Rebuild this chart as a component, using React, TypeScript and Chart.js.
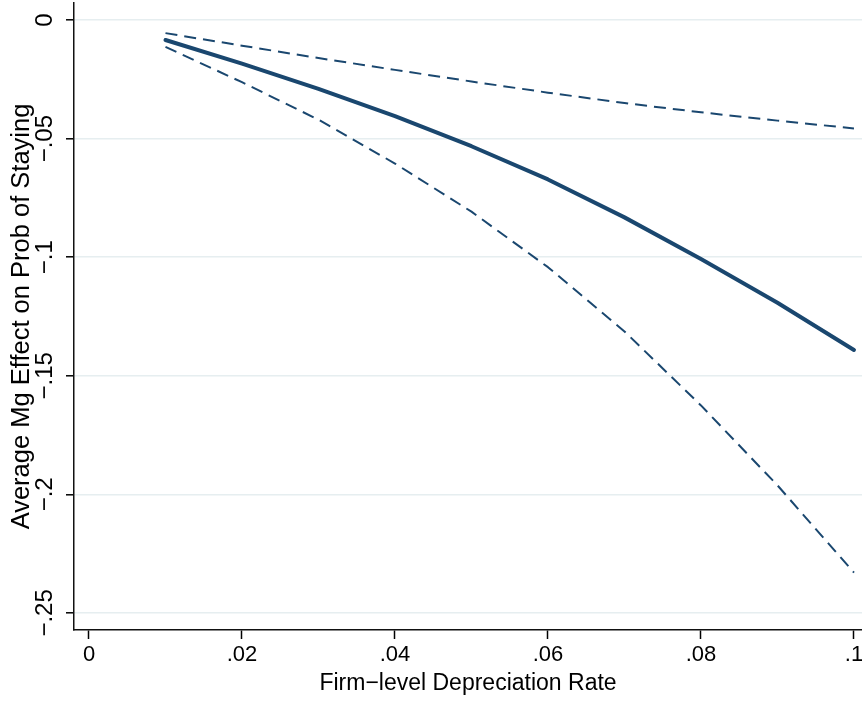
import React, { useEffect, useRef } from "react";
import { Chart, registerables } from "chart.js";

Chart.register(...registerables);

const DEP_RATE = [0.01, 0.02, 0.03, 0.04, 0.05, 0.06, 0.07, 0.08, 0.09, 0.1];
const MARGINAL_EFFECT = [-0.0084, -0.0184, -0.029, -0.0405, -0.0532, -0.0672, -0.0832, -0.1008, -0.1192, -0.1391];
const CI_UPPER = [-0.0055, -0.0108, -0.016, -0.021, -0.0259, -0.0306, -0.035, -0.0389, -0.0424, -0.0457];
const CI_LOWER = [-0.0113, -0.0262, -0.042, -0.0605, -0.0808, -0.1042, -0.1313, -0.1625, -0.1962, -0.233];

const X_TICKS = [0, 0.02, 0.04, 0.06, 0.08, 0.1];
const X_TICK_LABELS = ["0", ".02", ".04", ".06", ".08", ".1"];
const Y_TICKS = [0, -0.05, -0.1, -0.15, -0.2, -0.25];
const Y_TICK_LABELS = ["0", "\u2212.05", "\u2212.1", "\u2212.15", "\u2212.2", "\u2212.25"];

const X_TITLE = "Firm\u2212level Depreciation Rate";
const Y_TITLE = "Average Mg Effect on Prob of Staying";

const NAVY = "#1a476f";
const FONT = '"Liberation Sans", Arial, Helvetica, sans-serif';

const rotatedYLabels = {
  id: "rotatedYLabels",
  afterDraw(chart: any) {
    const ys = chart.scales.y;
    const ctx = chart.ctx;
    ctx.save();
    ctx.font = `24px ${FONT}`;
    ctx.fillStyle = "#000";
    ctx.textAlign = "center";
    ctx.textBaseline = "middle";
    const cx = ys.right - 29;
    Y_TICKS.forEach((v, i) => {
      const py = ys.getPixelForValue(v);
      ctx.save();
      ctx.translate(cx, py);
      ctx.rotate(-Math.PI / 2);
      ctx.fillText(Y_TICK_LABELS[i], 0, 0);
      ctx.restore();
    });
    ctx.restore();
  },
};

export default function App() {
  const ref = useRef<HTMLCanvasElement | null>(null);

  useEffect(() => {
    if (!ref.current) return;
    const line = (data: number[], width: number, dash: number[], cap: string) => ({
      data: DEP_RATE.map((x, i) => ({ x, y: data[i] })),
      borderColor: NAVY,
      backgroundColor: NAVY,
      borderWidth: width,
      borderDash: dash,
      borderCapStyle: cap,
      borderJoinStyle: "round",
      pointRadius: 0,
      tension: 0,
      fill: false,
    });
    const chart = new Chart(ref.current, {
      type: "line",
      data: {
        datasets: [
          line(CI_UPPER, 2, [12, 7], "butt"),
          line(CI_LOWER, 2, [12, 7], "butt"),
          line(MARGINAL_EFFECT, 4, [], "round"),
        ] as any,
      },
      options: {
        animation: false,
        responsive: false,
        devicePixelRatio: 1,
        layout: { padding: { top: 3, right: 0, bottom: 0, left: 0 } },
        plugins: { legend: { display: false }, tooltip: { enabled: false } },
        scales: {
          x: {
            type: "linear",
            min: -0.00196,
            max: 0.10105,
            afterBuildTicks: (s: any) => {
              s.ticks = X_TICKS.map((value) => ({ value }));
            },
            afterFit: (s: any) => {
              s.height = 72;
              s.paddingLeft = 0;
              s.paddingRight = 0;
            },
            ticks: {
              autoSkip: false,
              maxRotation: 0,
              minRotation: 0,
              padding: 3,
              color: "#000",
              font: { family: FONT, size: 22 },
              callback: (_v: any, i: number) => X_TICK_LABELS[i],
            },
            grid: {
              drawOnChartArea: false,
              drawTicks: true,
              tickLength: 9,
              tickColor: "#000",
              tickWidth: 1.5,
            },
            border: { display: true, color: "#111", width: 1.5 },
            title: {
              display: true,
              text: X_TITLE,
              color: "#000",
              font: { family: FONT, size: 23 },
              padding: { top: 0, bottom: 5 },
            },
          },
          y: {
            type: "linear",
            min: -0.2572,
            max: 0.0072,
            afterBuildTicks: (s: any) => {
              s.ticks = Y_TICKS.map((value) => ({ value }));
            },
            afterFit: (s: any) => {
              s.width = 74;
              s.paddingTop = 0;
              s.paddingBottom = 0;
            },
            ticks: {
              autoSkip: false,
              color: "rgba(0,0,0,0)",
              font: { family: FONT, size: 1 },
              callback: (_v: any, i: number) => Y_TICK_LABELS[i],
            },
            grid: {
              color: "#e6eef0",
              lineWidth: 1.6,
              drawTicks: true,
              tickLength: 8,
              tickColor: "#000",
              tickWidth: 1.5,
            },
            border: { display: true, color: "#111", width: 1.5 },
            title: {
              display: true,
              text: Y_TITLE,
              color: "#000",
              font: { family: FONT, size: 25.5 },
              padding: { top: 7, bottom: 0 },
            },
          },
        },
      } as any,
      plugins: [rotatedYLabels],
    });
    return () => chart.destroy();
  }, []);

  return (
    <div style={{ position: "fixed", left: 0, top: 0, width: 862, height: 702, background: "#fff" }}>
      <canvas ref={ref} width={862} height={702} style={{ display: "block" }} />
    </div>
  );
}
